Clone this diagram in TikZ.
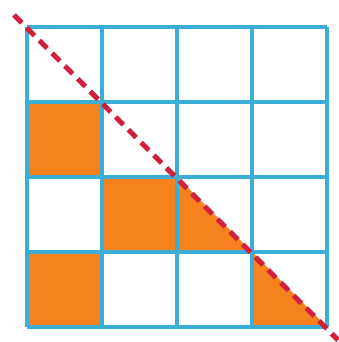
\documentclass[tikz,border=0pt]{standalone}
\definecolor{gridblue}{HTML}{3AAED6}
\definecolor{fillorange}{HTML}{F5821F}
\definecolor{dashred}{HTML}{D0203C}
\tikzset{
  cellfill/.style={fill=fillorange, draw=none},
  gridline/.style={draw=gridblue, line width=3.2pt},
  diagline/.style={draw=dashred, line width=5pt, dash pattern=on 11pt off 7pt}
}
\begin{document}
\begin{tikzpicture}[x=1pt,y=-1pt]
\useasboundingbox (0,0) rectangle (339,342);
% shaded cells
\fill[cellfill] (27,102) rectangle (102,177);
\fill[cellfill] (102,177) rectangle (177,252);
\fill[cellfill] (177,177) -- (177,252) -- (252,252) -- cycle;
\fill[cellfill] (27,252) rectangle (102,327);
\fill[cellfill] (252,252) -- (252,327) -- (327,327) -- cycle;
% grid
\foreach \v in {27,102,177,252,327}{
  \draw[gridline] (\v,27) -- (\v,327);
  \draw[gridline] (27,\v) -- (327,\v);
}
% diagonal
\coordinate (d1) at (14,15);
\coordinate (d2) at (338,340);
\draw[diagline] (d1) -- (d2);
\end{tikzpicture}
\end{document}
